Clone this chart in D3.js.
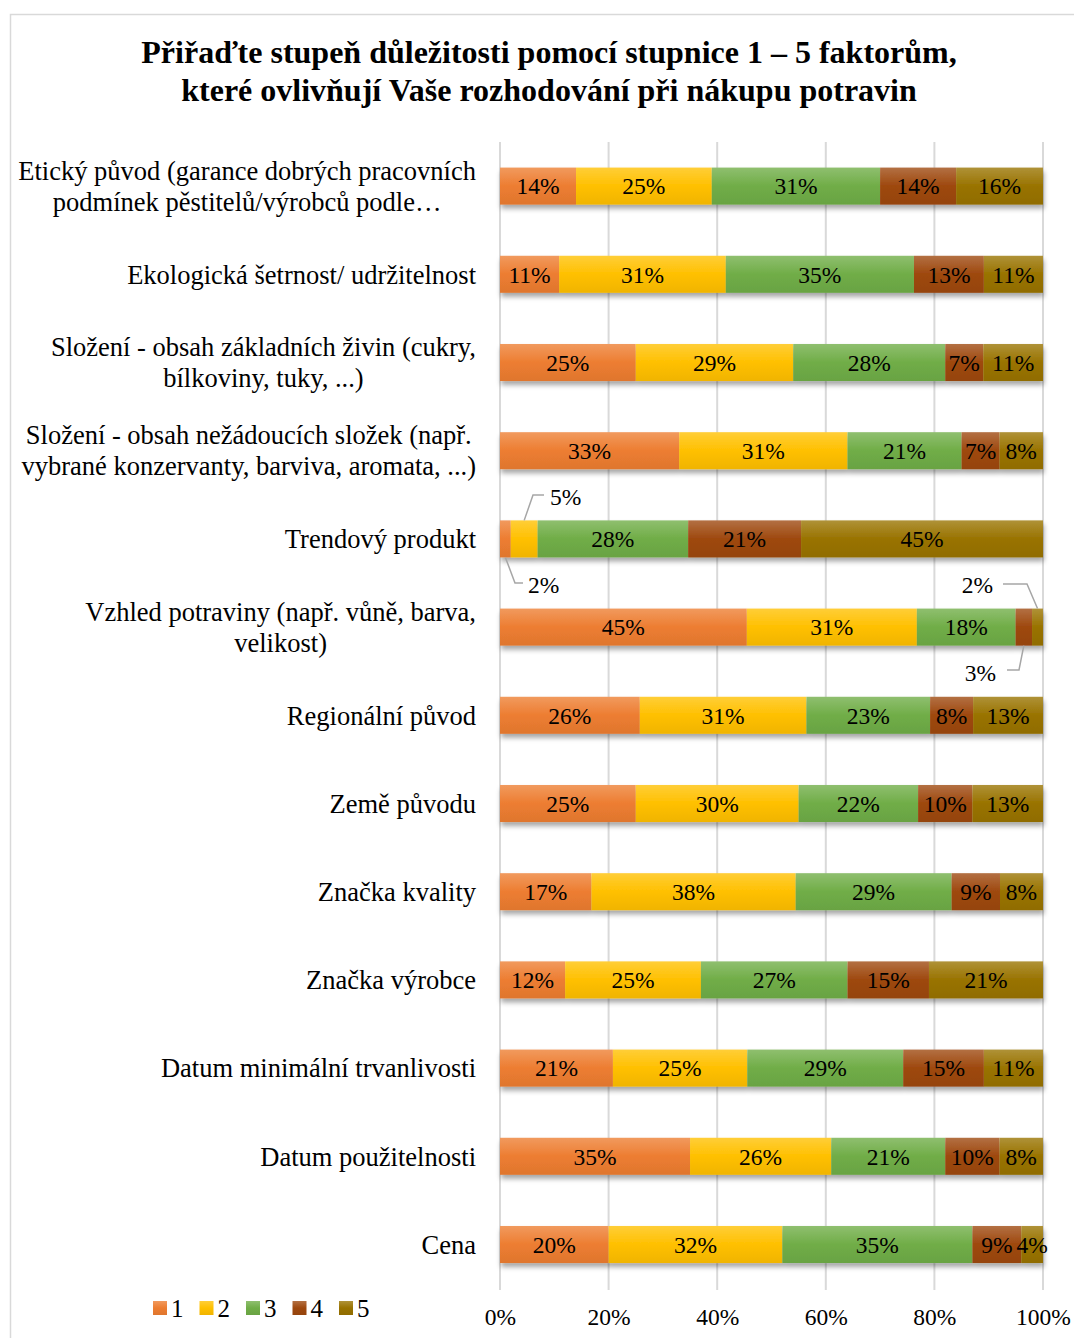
<!DOCTYPE html>
<html><head><meta charset="utf-8">
<script src="https://cdn.jsdelivr.net/npm/d3@7"></script>
<style>
html,body{margin:0;padding:0;background:#fff;}
text{font-family:"Liberation Serif","Times New Roman",serif;fill:#000;}
</style></head>
<body>
<svg id="chart" width="1074" height="1338"></svg>
<script>
const title = ["Přiřaďte stupeň důležitosti pomocí stupnice 1 – 5 faktorům,",
               "které ovlivňují Vaše rozhodování při nákupu potravin"];
const categories = [
  ["Etický původ (garance dobrých pracovních", "podmínek pěstitelů/výrobců podle…"],
  ["Ekologická šetrnost/ udržitelnost"],
  ["Složení - obsah základních živin (cukry,", "bílkoviny, tuky, ...)"],
  ["Složení - obsah nežádoucích složek (např.", "vybrané konzervanty, barviva, aromata, ...)"],
  ["Trendový produkt"],
  ["Vzhled potraviny (např. vůně, barva,", "velikost)"],
  ["Regionální původ"],
  ["Země původu"],
  ["Značka kvality"],
  ["Značka výrobce"],
  ["Datum minimální trvanlivosti"],
  ["Datum použitelnosti"],
  ["Cena"]
];
const seriesNames = ["1","2","3","4","5"];
const s1 = [14,11,25,33,2,45,26,25,17,12,21,35,20];
const s2 = [25,31,29,31,5,31,31,30,38,25,25,26,32];
const s3 = [31,35,28,21,28,18,23,22,29,27,29,21,35];
const s4 = [14,13,7,7,21,3,8,10,9,15,15,10,9];
const s5 = [16,11,11,8,45,2,13,13,8,21,11,8,4];
const xTicks = [0,0.2,0.4,0.6,0.8,1];
const colors = ["#ED7D31","#FFC000","#70AD47","#9E480E","#997300"];

const seriesVals = [s1,s2,s3,s4,s5];
const rows = categories.map((c,i)=>{
  const o = {idx:i};
  seriesNames.forEach((s,j)=>o[s]=seriesVals[j][i]);
  return o;
});

const svg = d3.select("#chart");
const defs = svg.append("defs");
colors.forEach((c,i)=>{
  const g = defs.append("linearGradient").attr("id","g"+i)
    .attr("x1",0).attr("y1",0).attr("x2",0).attr("y2",1);
  g.append("stop").attr("offset","0%").attr("stop-color",d3.interpolateRgb(c,"#fff")(0.22));
  g.append("stop").attr("offset","50%").attr("stop-color",c);
  g.append("stop").attr("offset","100%").attr("stop-color",d3.interpolateRgb(c,"#000")(0.06));
});
const f = defs.append("filter").attr("id","sh").attr("x","-5%").attr("y","-30%").attr("width","110%").attr("height","180%");
f.append("feDropShadow").attr("dx",1).attr("dy",4).attr("stdDeviation",2.5)
  .attr("flood-color","#000").attr("flood-opacity",0.35);

// chart area border
svg.append("rect").attr("x",10.5).attr("y",14.5).attr("width",1100).attr("height",1400)
  .attr("fill","#fff").attr("stroke","#d9d9d9").attr("stroke-width",1.5);

// title
svg.append("g").selectAll("text").data(title).join("text")
  .attr("x",549).attr("y",(d,i)=>63+i*38).attr("text-anchor","middle")
  .attr("font-size",32).attr("font-weight","bold").text(d=>d);

const x = d3.scaleLinear().domain([0,1]).range([500,1043]);
const y = d3.scaleBand().domain(d3.range(categories.length)).range([142,1288.6])
  .paddingInner(0.58).paddingOuter(0.29);

// gridlines
svg.append("g").selectAll("line").data(xTicks).join("line")
  .attr("x1",d=>x(d)).attr("x2",d=>x(d)).attr("y1",142).attr("y2",1290)
  .attr("stroke","#d9d9d9").attr("stroke-width",2);

// x axis labels
const xAxis = d3.axisBottom(x).tickValues(xTicks).tickFormat(d3.format(".0%")).tickSize(0).tickPadding(0);
const xg = svg.append("g").attr("transform","translate(0,1308)").call(xAxis);
xg.select(".domain").remove();
xg.selectAll("text").attr("font-size",23.5).attr("font-family","Liberation Serif").attr("fill","#000");

// stacked bars
const stack = d3.stack().keys(seriesNames).offset(d3.stackOffsetExpand);
const stacked = stack(rows);
const gBars = svg.append("g").attr("filter","url(#sh)");
stacked.forEach((layer,j)=>{
  gBars.append("g").selectAll("rect").data(layer).join("rect")
    .attr("x",d=>x(d[0])).attr("width",d=>x(d[1])-x(d[0]))
    .attr("y",(d,i)=>y(i)).attr("height",y.bandwidth())
    .attr("fill","url(#g"+j+")");
});

// callouts for small segments
const callouts = [
  {row:4, s:0, lx:528, ly:585, anchor:"start", pts:(xm,top,bot)=>[[xm,bot],[515,583],[523,583]]},
  {row:4, s:1, lx:550, ly:497, anchor:"start", pts:(xm,top,bot)=>[[xm,top],[533,495],[544,495]]},
  {row:5, s:4, lx:993, ly:585, anchor:"end", pts:(xm,top,bot)=>[[xm,top],[1027,584],[1003,584]]},
  {row:5, s:3, lx:996, ly:673, anchor:"end", pts:(xm,top,bot)=>[[xm,bot],[1019,670],[1007,670]]}
];
const isCallout = (r,s)=>callouts.some(c=>c.row===r&&c.s===s);

const gLab = svg.append("g");
stacked.forEach((layer,j)=>{
  layer.forEach((d,i)=>{
    const v = seriesVals[j][i];
    if (isCallout(i,j)) return;
    gLab.append("text")
      .attr("x",(x(d[0])+x(d[1]))/2).attr("y",y(i)+y.bandwidth()/2)
      .attr("dy","0.35em").attr("text-anchor","middle").attr("font-size",23.5)
      .text(v+"%");
  });
});
callouts.forEach(c=>{
  const d = stacked[c.s][c.row];
  const xm = (x(d[0])+x(d[1]))/2;
  const top = y(c.row), bot = y(c.row)+y.bandwidth();
  gLab.append("path").attr("d",d3.line()(c.pts(xm,top,bot)))
    .attr("fill","none").attr("stroke","#a6a6a6").attr("stroke-width",1.5);
  gLab.append("text").attr("x",c.lx).attr("y",c.ly).attr("dy","0.35em")
    .attr("text-anchor",c.anchor).attr("font-size",23.5).text(seriesVals[c.s][c.row]+"%");
});

// category labels
const lh = 31;
categories.forEach((lines,i)=>{
  const cy = y(i)+y.bandwidth()/2;
  const g = svg.append("g");
  const ts = lines.map((l,k)=>g.append("text").attr("font-size",26.5)
    .attr("y",cy+(k-(lines.length-1)/2)*lh).attr("dy","0.35em").text(l));
  const widths = ts.map(t=>t.node().getComputedTextLength());
  const maxW = d3.max(widths);
  const center = 476 - maxW/2;
  ts.forEach(t=>t.attr("x",center).attr("text-anchor","middle"));
});

// legend
const lg = svg.append("g");
seriesNames.forEach((s,j)=>{
  const lx = 153 + j*46.5;
  lg.append("rect").attr("x",lx).attr("y",1301).attr("width",14).attr("height",14)
    .attr("fill","url(#g"+j+")");
  lg.append("text").attr("x",lx+18).attr("y",1308).attr("dy","0.35em")
    .attr("font-size",25).text(s);
});
</script>
</body></html>
